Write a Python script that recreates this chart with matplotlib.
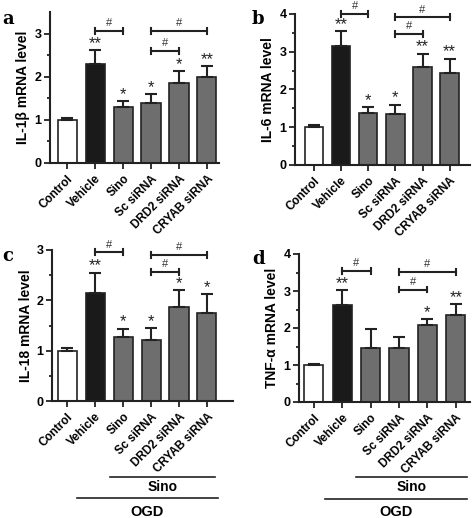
import matplotlib
matplotlib.use("Agg")
import matplotlib.pyplot as plt
import matplotlib.transforms as mtransforms
import numpy as np

plt.rcParams['font.family'] = ['Liberation Sans', 'DejaVu Sans']

categories = ["Control", "Vehicle", "Sino", "Sc siRNA", "DRD2 siRNA", "CRYAB siRNA"]
bar_colors = ["white", "#1a1a1a", "#6e6e6e", "#6e6e6e", "#6e6e6e", "#6e6e6e"]

# panel a: IL-1beta
il1b_mean = [1.00, 2.30, 1.30, 1.40, 1.85, 2.00]
il1b_err = [0.04, 0.32, 0.14, 0.20, 0.28, 0.25]
il1b_stars = ["", "**", "*", "*", "*", "**"]
# panel b: IL-6
il6_mean = [1.00, 3.15, 1.38, 1.36, 2.60, 2.43]
il6_err = [0.06, 0.40, 0.15, 0.24, 0.35, 0.39]
il6_stars = ["", "**", "*", "*", "**", "**"]
# panel c: IL-18
il18_mean = [1.00, 2.15, 1.28, 1.22, 1.86, 1.75]
il18_err = [0.05, 0.40, 0.16, 0.23, 0.34, 0.38]
il18_stars = ["", "**", "*", "*", "*", "*"]
# panel d: TNF-alpha
tnf_mean = [1.00, 2.63, 1.46, 1.45, 2.07, 2.35]
tnf_err = [0.03, 0.39, 0.50, 0.30, 0.16, 0.29]
tnf_stars = ["", "**", "", "", "*", "**"]

# brackets: (i, j, y)
il1b_brackets = [(1, 2, 3.07), (3, 5, 3.07), (3, 4, 2.60)]
il6_brackets = [(1, 2, 4.01), (3, 5, 3.92), (3, 4, 3.48)]
il18_brackets = [(1, 2, 2.96), (3, 5, 2.91), (3, 4, 2.57)]
tnf_brackets = [(1, 2, 3.55), (3, 5, 3.52), (3, 4, 3.04)]

W, H = 472, 518
fig = plt.figure(figsize=(W / 100, H / 100), dpi=100)
INK = "#222222"


def px_axes(left, right, top, bottom):
    return fig.add_axes([left / W, 1 - bottom / H, (right - left) / W, (bottom - top) / H])


panels = [
    dict(box=(50, 219, 12, 163), xlim=(-0.61, 5.43), ylim=(0, 3.5), yt=[0, 1, 2, 3],
         mean=il1b_mean, err=il1b_err, stars=il1b_stars, br=il1b_brackets,
         ylabel="IL-1β mRNA level", letter="a", lx=2, ly=10, bh=0.07),
    dict(box=(295, 470, 14, 165), xlim=(-0.70, 5.75), ylim=(0, 4.0), yt=[0, 1, 2, 3, 4],
         mean=il6_mean, err=il6_err, stars=il6_stars, br=il6_brackets,
         ylabel="IL-6 mRNA level", letter="b", lx=252, ly=10, bh=0.08),
    dict(box=(52, 233, 250, 401), xlim=(-0.54, 5.93), ylim=(0, 3.0), yt=[0, 1, 2, 3],
         mean=il18_mean, err=il18_err, stars=il18_stars, br=il18_brackets,
         ylabel="IL-18 mRNA level", letter="c", lx=2, ly=247, bh=0.06),
    dict(box=(299, 470, 254, 402), xlim=(-0.52, 5.5), ylim=(0, 4.0), yt=[0, 1, 2, 3, 4],
         mean=tnf_mean, err=tnf_err, stars=tnf_stars, br=tnf_brackets,
         ylabel="TNF-α mRNA level", letter="d", lx=252, ly=250, bh=0.08),
]

axes = []
for p in panels:
    ax = px_axes(*p["box"])
    axes.append(ax)
    x = np.arange(len(categories))
    ax.bar(x, p["mean"], width=0.68, color=bar_colors, edgecolor=INK, linewidth=1.2, zorder=2)
    ax.errorbar(x, p["mean"], yerr=[np.zeros(len(x)), p["err"]], fmt="none", ecolor=INK,
                elinewidth=1.5, capsize=4, capthick=1.5, zorder=3)
    for xi, m, e, s in zip(x, p["mean"], p["err"], p["stars"]):
        if s:
            ax.annotate(s, (xi, m + e), xytext=(0, 1.5), textcoords="offset points",
                        ha="center", va="baseline", fontsize=12, color=INK, zorder=4,
                        annotation_clip=False)
    for i, j, yb in p["br"]:
        ax.plot([i, j], [yb, yb], color=INK, lw=1.5, clip_on=False, zorder=4)
        for xx in (i, j):
            ax.plot([xx, xx], [yb - p["bh"], yb + p["bh"]], color=INK, lw=1.5, clip_on=False, zorder=4)
        ax.annotate("#", ((i + j) / 2, yb), xytext=(0, 3.2), textcoords="offset points",
                    ha="center", va="baseline", fontsize=8, color="#333333",
                    annotation_clip=False)
    ax.set_xlim(*p["xlim"])
    ax.set_ylim(*p["ylim"])
    ax.set_yticks(p["yt"])
    ax.set_yticks(np.arange(0.5, p["ylim"][1], 1.0), minor=True)
    ax.set_xticks(x)
    ax.set_xticklabels(categories, rotation=45, ha="right", rotation_mode="anchor",
                       fontsize=8.5, fontweight="bold")
    for lab in ax.get_yticklabels():
        lab.set_fontsize(9)
        lab.set_fontweight("bold")
    ax.tick_params(axis="both", which="major", length=4, width=1.3, color=INK, pad=2)
    ax.tick_params(axis="y", which="minor", length=2.5, width=1.3, color=INK)
    ax.tick_params(axis="x", pad=3)
    for side in ("top", "right"):
        ax.spines[side].set_visible(False)
    for side in ("left", "bottom"):
        ax.spines[side].set_linewidth(1.5)
        ax.spines[side].set_color(INK)
    ax.set_ylabel(p["ylabel"], fontsize=10, fontweight="bold", labelpad=3)
    fig.text(p["lx"] / W, 1 - p["ly"] / H, p["letter"], fontsize=13, fontweight="bold",
             family="DejaVu Serif", va="top", ha="left")

# group lines under bottom panels
groups = [
    (axes[2], (1.54, 5.29), 477, "Sino", 487, (0.36, 5.39), 498, "OGD", 512),
    (axes[3], (1.50, 5.40), 477, "Sino", 487, (0.40, 5.40), 499, "OGD", 512),
]
for ax, (s0, s1), sy, stxt, sty, (o0, o1), oy, otxt, oty in groups:
    tr = mtransforms.blended_transform_factory(ax.transData, fig.transFigure)
    ax.plot([s0, s1], [1 - sy / H] * 2, color=INK, lw=1.2, transform=tr, clip_on=False)
    ax.text((s0 + s1) / 2, 1 - sty / H, stxt, transform=tr, ha="center", va="center",
            fontsize=10, fontweight="bold")
    ax.plot([o0, o1], [1 - oy / H] * 2, color=INK, lw=1.2, transform=tr, clip_on=False)
    ax.text((o0 + o1) / 2, 1 - oty / H, otxt, transform=tr, ha="center", va="center",
            fontsize=10.5, fontweight="bold")

fig.savefig("out.png", dpi=100)
